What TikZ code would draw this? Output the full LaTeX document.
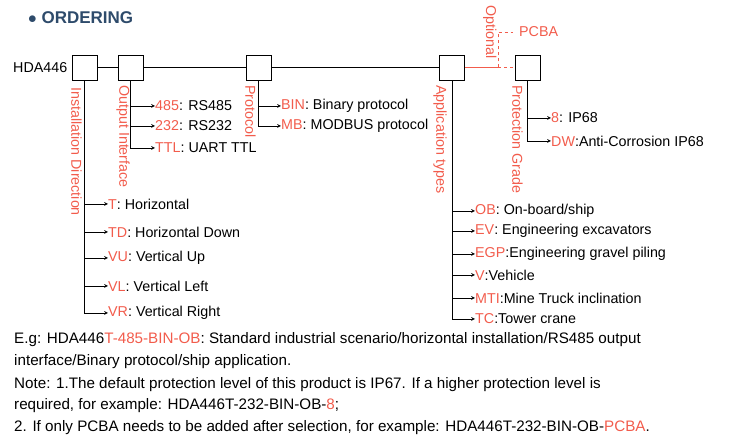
\documentclass[tikz,border=0pt]{standalone}
\usepackage{fontspec}
\setmainfont{Liberation Sans}
\definecolor{rd}{HTML}{F25C4C}
\definecolor{tt}{HTML}{2E4B6B}
\begin{document}
\begin{tikzpicture}[x=1pt,y=-1pt,
 bx/.style={draw,line width=0.8pt,minimum size=25pt,inner sep=0},
 lab/.style={font=\fontsize{14.3}{16}\selectfont,anchor=west,inner sep=0},
 rl/.style={font=\fontsize{14.3}{16}\selectfont,text=rd,rotate=-90,anchor=north west,inner sep=0},
 ar/.style={->,>=stealth,line width=0.7pt},
 txt/.style={font=\fontsize{15.2}{17}\selectfont,anchor=west,inner sep=0}]
\useasboundingbox (0,0) rectangle (732,443);
\node[anchor=west,inner sep=0,text=tt,font=\bfseries\fontsize{17}{19}\selectfont] (title) at (28,18) {$\bullet$ ORDERING};
\node[lab] (hda) at (13,68) {HDA446};
\node[bx] (b1) at (84.5,67.5) {};
\node[bx] (b2) at (130.5,67.5) {};
\node[bx] (b3) at (258.5,67.5) {};
\node[bx] (b4) at (452,67.5) {};
\node[bx] (b5) at (527.5,67.5) {};
\draw[line width=0.8pt] (b1) -- (b2) (b2) -- (b3) (b3) -- (b4);
\coordinate (j) at (498,67.5);
\coordinate (jt) at (498,32);
\draw[rd,line width=0.7pt] (b4.east) -- (j);
\draw[rd,dashed,line width=0.7pt] (j) -- (b5.west);
\draw[rd,dashed,line width=0.7pt] (j) -- (jt) -- (513,32);
\node[lab,text=rd] (pcba) at (519,32) {PCBA};
\node[rl,anchor=south west] (opt) at (483,5) {Optional};
\node[rl] (l1) at (82,87) {Installation Direction};
\node[rl] (l2) at (130,85) {Output Interface};
\node[rl] (l3) at (256,85) {Protocol};
\node[rl] (l4) at (447,85) {Application types};
\node[rl] (l5) at (523,85) {Protection Grade};
\foreach \n/\y/\a/\b in {t/204/T/Horizontal,td/232/TD/Horizontal Down,vu/258/VU/Vertical Up,vl/286/VL/Vertical Left,vr/313/VR/Vertical Right}{
 \node[lab] (\n) at (108,\y) {\textcolor{rd}{\a}: \b};
 \draw[ar] (b1.south) |- (\n.west);
}
\foreach \n/\y/\a/\b in {o1/106/485/RS485,o2/126/232/RS232,o3/148/TTL/UART TTL}{
 \node[lab] (\n) at (155,\y) {\textcolor{rd}{\a}: \b};
 \draw[ar] (b2.south) |- (\n.west);
}
\foreach \n/\y/\a/\b in {p1/106/BIN/Binary protocol,p2/126/MB/MODBUS protocol}{
 \node[lab] (\n) at (281,\y) {\textcolor{rd}{\a}: \b};
 \draw[ar] (b3.south) |- (\n.west);
}
\foreach \n/\y/\a/\b in {a1/211/OB/{: On-board/ship},a2/231/EV/{: Engineering excavators},a3/254/EGP/{:Engineering gravel piling},a4/275/V/{:Vehicle},a5/298/MTI/{:Mine Truck inclination},a6/319/TC/{:Tower crane}}{
 \node[lab] (\n) at (475,\y) {\textcolor{rd}{\a}\b};
 \draw[ar] (b4.south) |- (\n.west);
}
\node[lab] (g1) at (551,118) {\textcolor{rd}{8}: IP68};
\node[lab] (g2) at (551,141) {\textcolor{rd}{DW}:Anti-Corrosion IP68};
\draw[ar] (b5.south) |- (g1.west);
\draw[ar] (b5.south) |- (g2.west);
\node[txt] (n1) at (14,340) {E.g: HDA446\textcolor{rd}{T-485-BIN-OB}: Standard industrial scenario/horizontal installation/RS485 output};
\node[txt] (n2) at (14,362) {interface/Binary protocol/ship application.};
\node[txt] (n3) at (14,385) {Note: 1.The default protection level of this product is IP67. If a higher protection level is};
\node[txt] (n4) at (14,406) {required, for example: HDA446T-232-BIN-OB-\textcolor{rd}{8};};
\node[txt] (n5) at (14,428) {2. If only PCBA needs to be added after selection, for example: HDA446T-232-BIN-OB-\textcolor{rd}{PCBA}.};
\end{tikzpicture}
\end{document}
